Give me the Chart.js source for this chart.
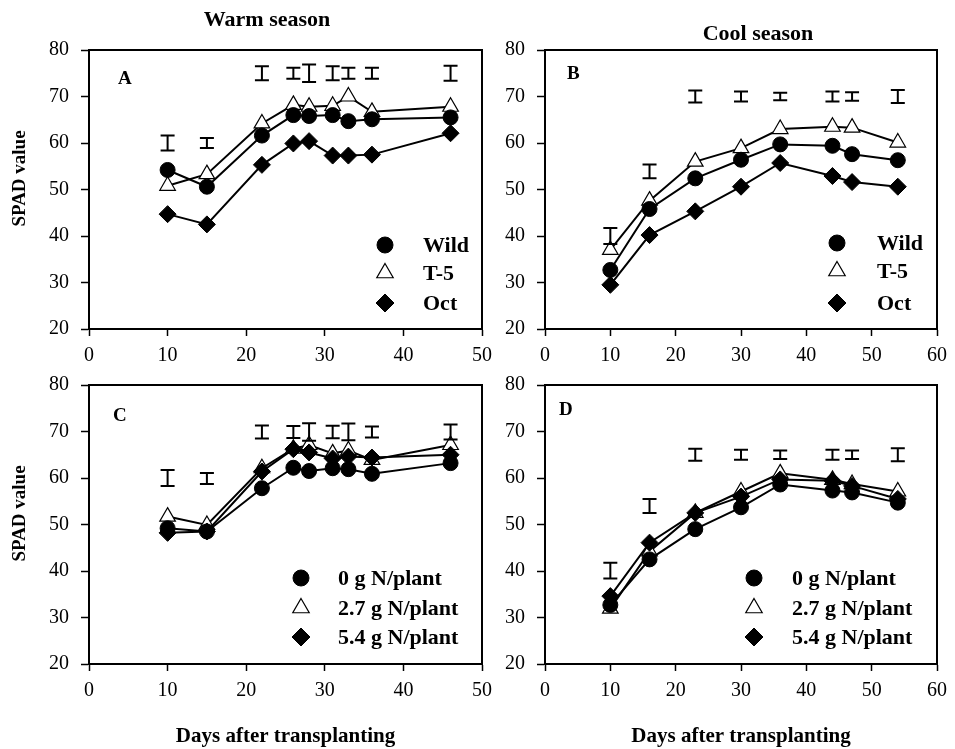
<!DOCTYPE html>
<html>
<head>
<meta charset="utf-8">
<title>SPAD value after transplanting</title>
<script src="https://cdn.jsdelivr.net/npm/chart.js@4.4.0/dist/chart.umd.min.js"></script>
<style>
  body { margin: 0; background: #fff; }
  #wrap { position: relative; width: 955px; height: 749px; overflow: hidden; }
  #wrap canvas { position: absolute; }
</style>
</head>
<body>
<div id="wrap">
  <canvas id="chartA" width="500" height="380" style="left:0;top:0"></canvas>
  <canvas id="chartB" width="477" height="380" style="left:478px;top:0"></canvas>
  <canvas id="chartC" width="500" height="414" style="left:0;top:335px"></canvas>
  <canvas id="chartD" width="477" height="414" style="left:478px;top:335px"></canvas>
</div>
<script>
// sampling days
const warmDays = [10, 15, 22, 26, 28, 31, 33, 36, 46];
const coolDays = [10, 16, 23, 30, 36, 44, 47, 54];
const yTicks = [20, 30, 40, 50, 60, 70, 80];

// A: genotypes, warm season
const warmWild = [54.2, 50.6, 61.6, 66.0, 65.8, 66.0, 64.7, 65.1, 65.5];
const warmT5 = [50.8, 53.3, 64.2, 68.2, 67.8, 68.0, 70.0, 66.7, 67.8];
const warmOct = [44.7, 42.5, 55.3, 59.9, 60.4, 57.3, 57.3, 57.5, 62.1];
const warmGenoLsdMid = [60, 60, 75, 75, 75, 75, 75, 75, 75];
const warmGenoLsdHalf = [1.6, 1.1, 1.5, 1.2, 1.9, 1.5, 1.2, 1.2, 1.6];

// B: genotypes, cool season
const coolWild = [32.7, 45.8, 52.4, 56.4, 59.7, 59.4, 57.6, 56.3];
const coolT5 = [37.0, 47.6, 56.0, 58.9, 63.0, 63.5, 63.3, 60.1];
const coolOct = [29.5, 40.2, 45.3, 50.6, 55.7, 52.9, 51.6, 50.6];
const coolGenoLsdMid = [40, 53.9, 70, 70, 70, 70, 70, 70];
const coolGenoLsdHalf = [1.7, 1.5, 1.3, 1.1, 0.8, 1.1, 0.9, 1.4];

// C: nitrogen rates, warm season
const warmN0 = [49.2, 48.5, 57.8, 62.2, 61.5, 62.1, 61.9, 60.9, 63.2];
const warmN27 = [51.7, 49.9, 62.1, 66.3, 67.1, 65.3, 65.9, 63.9, 67.1];
const warmN54 = [48.2, 48.5, 61.4, 66.2, 65.5, 64.2, 64.6, 64.4, 65.0];
const warmNLsdMid = [60, 59.9, 69.9, 69.9, 69.9, 69.9, 69.9, 69.9, 69.9];
const warmNLsdHalf = [1.7, 1.2, 1.4, 1.3, 1.9, 1.35, 1.8, 1.2, 1.6];

// D: nitrogen rates, cool season
const coolN0 = [32.7, 42.5, 49.0, 53.7, 58.6, 57.3, 56.9, 54.7];
const coolN27 = [31.9, 44.2, 52.5, 57.1, 61.0, 59.6, 58.7, 57.1];
const coolN54 = [34.6, 46.1, 52.5, 56.0, 59.7, 59.4, 58.3, 55.5];
const coolNLsdMid = [40.1, 54, 65, 65, 65, 65, 65, 65];
const coolNLsdHalf = [1.7, 1.5, 1.3, 1.1, 0.9, 1.1, 0.9, 1.4];

const genoLabels = ['Wild', 'T-5', 'Oct'];
const nLabels = ['0 g N/plant', '2.7 g N/plant', '5.4 g N/plant'];

const SERIF = '"Liberation Serif", "Times New Roman", serif';

const markerStyles = [
    { pointStyle: 'circle', pointRadius: 7.5, pointBackgroundColor: '#000', pointBorderWidth: 1, order: 2 },
    { pointStyle: 'triangle', pointRadius: 9, pointBackgroundColor: '#fff', pointBorderWidth: 1.2, order: 3 },
    { pointStyle: 'rectRot', pointRadius: 8.5, pointBackgroundColor: '#000', pointBorderWidth: 1, order: 1 }
];

function makeSet(label, days, values, idx) {
    return Object.assign({
        label: label,
        data: days.map((d, i) => ({ x: d, y: values[i] })),
        borderColor: '#000',
        borderWidth: 2,
        pointBorderColor: '#000',
        tension: 0
    }, markerStyles[idx]);
}

// frame, LSD bars, panel letter, headings and legend
const panelDecor = {
    id: 'panelDecor',
    afterDraw(chart, args, opts) {
        const { ctx, chartArea: a, scales: { x, y } } = chart;
        ctx.save();
        ctx.strokeStyle = '#000';
        ctx.lineWidth = 2;
        ctx.strokeRect(a.left, a.top, a.right - a.left, a.bottom - a.top);

        opts.lsdDays.forEach((d, i) => {
            const px = x.getPixelForValue(d);
            const y1 = y.getPixelForValue(opts.lsdMid[i] + opts.lsdHalf[i]);
            const y2 = y.getPixelForValue(opts.lsdMid[i] - opts.lsdHalf[i]);
            ctx.beginPath();
            ctx.moveTo(px, y1); ctx.lineTo(px, y2);
            ctx.moveTo(px - 7, y1); ctx.lineTo(px + 7, y1);
            ctx.moveTo(px - 7, y2); ctx.lineTo(px + 7, y2);
            ctx.stroke();
        });

        ctx.fillStyle = '#000';
        ctx.textBaseline = 'middle';
        ctx.textAlign = 'left';
        ctx.font = 'bold 19px ' + SERIF;
        ctx.fillText(opts.letter, a.left + opts.letterDx, a.top + opts.letterDy);

        if (opts.heading) {
            ctx.textAlign = 'center';
            ctx.font = 'bold 22px ' + SERIF;
            ctx.fillText(opts.heading, a.left + opts.headingDx, a.top + opts.headingDy);
        }

        // y axis title sits a little above the middle of the axis
        if (opts.yTitle) {
            ctx.save();
            ctx.translate(20, (a.top + a.bottom) / 2 - 11);
            ctx.rotate(-Math.PI / 2);
            ctx.textAlign = 'center';
            ctx.font = 'bold 19px ' + SERIF;
            ctx.fillText(opts.yTitle, 0, 0);
            ctx.restore();
        }

        ctx.textAlign = 'left';
        ctx.font = 'bold 22px ' + SERIF;
        chart.data.datasets.forEach((ds, i) => {
            const ry = a.bottom + opts.legendRows[i];
            const mx = a.right + opts.legendMarkerDx;
            ctx.fillStyle = ds.pointBackgroundColor;
            ctx.strokeStyle = '#000';
            ctx.lineWidth = ds.pointBorderWidth;
            Chart.helpers.drawPoint(ctx, {
                pointStyle: ds.pointStyle,
                radius: ds.pointRadius + 0.5,
                rotation: 0,
                borderWidth: ds.pointBorderWidth
            }, mx, ry);
            ctx.fillStyle = '#000';
            ctx.fillText(ds.label, a.right + opts.legendTextDx, ry + 1);
        });
        ctx.restore();
    }
};

function buildPanel(id, cfg) {
    const xAxisHeight = cfg.xTitle ? 85 : 46;
    new Chart(document.getElementById(id), {
        type: 'line',
        data: {
            datasets: cfg.labels.map((l, i) => makeSet(l, cfg.days, cfg.series[i], i))
        },
        options: {
            responsive: false,
            animation: false,
            layout: { padding: { left: 0, top: 50, right: cfg.padRight, bottom: cfg.xTitle ? 0 : 5 } },
            scales: {
                x: {
                    type: 'linear',
                    min: 0,
                    max: cfg.xMax,
                    afterFit: s => { s.height = xAxisHeight; },
                    border: { display: true, color: '#000', width: 2 },
                    grid: { drawOnChartArea: false, drawTicks: true, tickLength: 7, tickColor: '#000', tickWidth: 1.5 },
                    ticks: { stepSize: 10, color: '#000', padding: 8, font: { family: SERIF, size: 20 } },
                    title: {
                        display: !!cfg.xTitle,
                        text: cfg.xTitle || '',
                        color: '#000',
                        padding: { top: 0, bottom: 0 },
                        font: { family: SERIF, size: 21, weight: 'bold' }
                    }
                },
                y: {
                    min: 20,
                    max: 80,
                    afterFit: s => { s.width = cfg.yAxisWidth; },
                    afterBuildTicks: s => { s.ticks = yTicks.map(v => ({ value: v })); },
                    border: { display: true, color: '#000', width: 2 },
                    grid: { drawOnChartArea: false, drawTicks: true, tickLength: 8, tickColor: '#000', tickWidth: 1.5 },
                    ticks: { color: '#000', padding: 12, font: { family: SERIF, size: 20 } }
                }
            },
            plugins: {
                legend: { display: false },
                tooltip: { enabled: false },
                panelDecor: Object.assign({ yTitle: cfg.yTitle }, cfg.decor)
            }
        },
        plugins: [panelDecor]
    });
}

buildPanel('chartA', {
    days: warmDays, xMax: 50, labels: genoLabels,
    series: [warmWild, warmT5, warmOct],
    yAxisWidth: 89, padRight: 14, yTitle: 'SPAD value',
    decor: {
        letter: 'A', letterDx: 29, letterDy: 29,
        heading: 'Warm season', headingDx: 178, headingDy: -30,
        lsdDays: warmDays, lsdMid: warmGenoLsdMid, lsdHalf: warmGenoLsdHalf,
        legendMarkerDx: -97, legendTextDx: -59, legendRows: [-84, -56, -26]
    }
});

buildPanel('chartB', {
    days: coolDays, xMax: 60, labels: genoLabels,
    series: [coolWild, coolT5, coolOct],
    yAxisWidth: 67, padRight: 13,
    decor: {
        letter: 'B', letterDx: 22, letterDy: 24,
        heading: 'Cool season', headingDx: 213, headingDy: -16,
        lsdDays: coolDays, lsdMid: coolGenoLsdMid, lsdHalf: coolGenoLsdHalf,
        legendMarkerDx: -100, legendTextDx: -60, legendRows: [-86, -58, -26]
    }
});

buildPanel('chartC', {
    days: warmDays, xMax: 50, labels: nLabels,
    series: [warmN0, warmN27, warmN54],
    yAxisWidth: 89, padRight: 14, yTitle: 'SPAD value', xTitle: 'Days after transplanting',
    decor: {
        letter: 'C', letterDx: 24, letterDy: 31,
        lsdDays: warmDays, lsdMid: warmNLsdMid, lsdHalf: warmNLsdHalf,
        legendMarkerDx: -181, legendTextDx: -144, legendRows: [-86, -56, -27]
    }
});

buildPanel('chartD', {
    days: coolDays, xMax: 60, labels: nLabels,
    series: [coolN0, coolN27, coolN54],
    yAxisWidth: 67, padRight: 13, xTitle: 'Days after transplanting',
    decor: {
        letter: 'D', letterDx: 14, letterDy: 25,
        lsdDays: coolDays, lsdMid: coolNLsdMid, lsdHalf: coolNLsdHalf,
        legendMarkerDx: -183, legendTextDx: -145, legendRows: [-86, -56, -27]
    }
});
</script>
</body>
</html>
